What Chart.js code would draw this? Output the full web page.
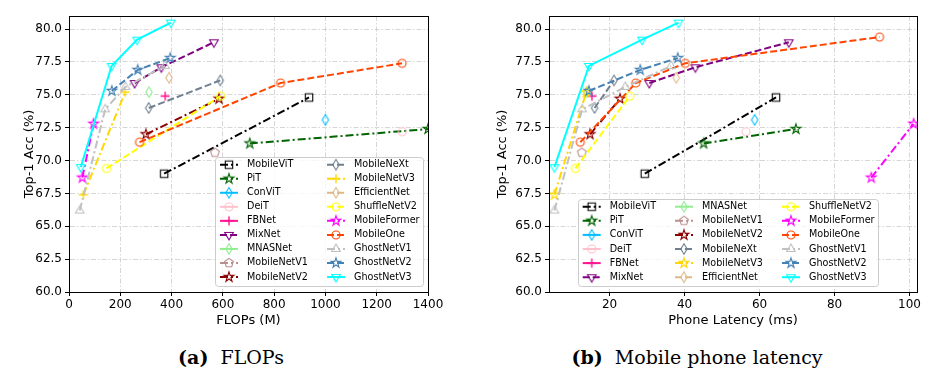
<!DOCTYPE html>
<html>
<head>
<meta charset="utf-8">
<script src="https://cdn.jsdelivr.net/npm/chart.js@4.4.0/dist/chart.umd.min.js"></script>
<style>
  body { margin: 0; background: #fff; width: 935px; height: 373px; position: relative; overflow: hidden; }
  #flops { position: absolute; left: 0; top: 0; }
  #latency { position: absolute; left: 467px; top: 0; }
  .cap { position: absolute; top: 346px; width: 300px; text-align: center; font-family: "DejaVu Serif"; font-size: 19px; line-height: 22px; color: #000; }
  .cap b { font-weight: bold; }
</style>
</head>
<body>
<canvas id="flops" width="467" height="340"></canvas>
<canvas id="latency" width="468" height="340"></canvas>
<div class="cap" style="left:81px"><b>(a)</b>&nbsp; FLOPs</div>
<div class="cap" style="left:547px"><b>(b)</b>&nbsp; Mobile phone latency</div>
<script>
const models = ['MobileViT', 'PiT', 'ConViT', 'DeiT', 'FBNet', 'MixNet', 'MNASNet', 'MobileNetV1', 'MobileNetV2',
  'MobileNeXt', 'MobileNetV3', 'EfficientNet', 'ShuffleNetV2', 'MobileFormer', 'MobileOne', 'GhostNetV1', 'GhostNetV2', 'GhostNetV3'];

// top-1 accuracy (%) of each variant
const accMobileViT = [69.0, 74.8];
const accPiT = [71.3, 72.4];
const accConViT = [73.1];
const accDeiT = [72.2];
const accFBNet = [74.9];
const accMixNet = [75.9, 77.1, 79.0];
const accMNASNet = [75.2];
const accMobileNetV1 = [70.6];
const accMobileNetV2 = [72.0, 74.7];
const accMobileNeXt = [74.0, 76.1];
const accMobileNetV3 = [67.4, 75.2];
const accEfficientNet = [76.3];
const accShuffleNetV2 = [69.4, 74.9];
const accMobileFormer = [68.7, 72.8];
const accMobileOne = [71.4, 75.9, 77.4, 79.4];
const accGhostNetV1 = [66.2, 73.9, 75.6, 77.2];
const accGhostNetV2 = [75.3, 76.9, 77.8];
const accGhostNetV3 = [69.5, 77.2, 79.2, 80.5];

// FLOPs (M)
const flopsMobileViT = [371, 936];
const flopsPiT = [705, 1400];
const flopsConViT = [1000];
const flopsDeiT = [1300];
const flopsFBNet = [375];
const flopsMixNet = [256, 360, 565];
const flopsMNASNet = [312];
const flopsMobileNetV1 = [569];
const flopsMobileNetV2 = [300, 585];
const flopsMobileNeXt = [311, 590];
const flopsMobileNetV3 = [56, 219];
const flopsEfficientNet = [390];
const flopsShuffleNetV2 = [146, 591];
const flopsMobileFormer = [52, 96];
const flopsMobileOne = [275, 825, 1299];
const flopsGhostNetV1 = [42, 141, 220, 374];
const flopsGhostNetV2 = [167, 268, 395];
const flopsGhostNetV3 = [46, 166, 266, 397];

// phone latency (ms)
const latMobileViT = [29.4, 64.4];
const latPiT = [45.1, 69.7];
const latConViT = [58.7];
const latDeiT = [56.4];
const latFBNet = [15.3];
const latMixNet = [30.6, 42.9, 67.8];
const latMNASNet = [14.0];
const latMobileNetV1 = [12.6];
const latMobileNetV2 = [14.8, 22.8];
const latMobileNeXt = [16.0, 21.2];
const latMobileNetV3 = [5.3, 13.8];
const latEfficientNet = [37.8];
const latShuffleNetV2 = [10.9, 25.4];
const latMobileFormer = [89.8, 101.1];
const latMobileOne = [12.2, 27.0, 40.2, 92.0];
const latGhostNetV1 = [5.3, 12.7, 24.2, 36.4];
const latGhostNetV2 = [14.5, 28.2, 38.2];
const latGhostNetV3 = [5.3, 14.5, 28.7, 38.4];

const flopsTicks = [0, 200, 400, 600, 800, 1000, 1200, 1400];
const latencyTicks = [20, 40, 60, 80, 100];
const accTicks = [60, 62.5, 65, 67.5, 70, 72.5, 75, 77.5, 80];

const accs = [accMobileViT, accPiT, accConViT, accDeiT, accFBNet, accMixNet, accMNASNet, accMobileNetV1, accMobileNetV2,
  accMobileNeXt, accMobileNetV3, accEfficientNet, accShuffleNetV2, accMobileFormer, accMobileOne, accGhostNetV1, accGhostNetV2, accGhostNetV3];
const flops = [flopsMobileViT, flopsPiT, flopsConViT, flopsDeiT, flopsFBNet, flopsMixNet, flopsMNASNet, flopsMobileNetV1, flopsMobileNetV2,
  flopsMobileNeXt, flopsMobileNetV3, flopsEfficientNet, flopsShuffleNetV2, flopsMobileFormer, flopsMobileOne, flopsGhostNetV1, flopsGhostNetV2, flopsGhostNetV3];
const lats = [latMobileViT, latPiT, latConViT, latDeiT, latFBNet, latMixNet, latMNASNet, latMobileNetV1, latMobileNetV2,
  latMobileNeXt, latMobileNetV3, latEfficientNet, latShuffleNetV2, latMobileFormer, latMobileOne, latGhostNetV1, latGhostNetV2, latGhostNetV3];

// styles
const colors = ['#000000', '#006400', '#00bfff', '#ffc0cb', '#ff1493', '#800080', '#90ee90', '#bc8f8f', '#8b0000',
  '#708090', '#ffd700', '#deb887', '#ffff00', '#ff00ff', '#ff4500', '#c0c0c0', '#4682b4', '#00ffff'];
const lineKinds = ['dashdot', 'dashdot', 'solid', 'solid', 'solid', 'dashed', 'solid', 'dashdot', 'dashdot',
  'dashed', 'dashdot', 'dashed', 'dashed', 'dashdot', 'dashed', 'dashdot', 'dashed', 'solid'];
const shapesFlops = ['s', '*', 'd', 'o', '+', 'v', 'd', 'p', '*', 'd', '+', 'd', 'o', '*', 'o', '^', '*', 'v'];
const shapesLat = ['s', '*', 'd', 'o', '+', 'v', 'd', 'p', '*', 'd', '*', 'd', 'o', '*', 'o', '^', '*', 'v'];
const dashes = { solid: [], dashed: [7, 3], dashdot: [8, 3, 2, 3] };

function poly(g, n, r, start) {
  for (let k = 0; k < n; k++) {
    const a = start + k * 2 * Math.PI / n;
    k ? g.lineTo(r * Math.cos(a), r * Math.sin(a)) : g.moveTo(r * Math.cos(a), r * Math.sin(a));
  }
  g.closePath();
}

// hollow matplotlib-like markers as little canvases
function marker(shape, color) {
  const c = document.createElement('canvas');
  c.width = c.height = 16;
  const g = c.getContext('2d');
  g.translate(8, 8);
  g.strokeStyle = color;
  g.lineWidth = 1.1;
  g.beginPath();
  if (shape == 'o') g.arc(0, 0, 4, 0, 2 * Math.PI);
  else if (shape == 's') g.rect(-3.7, -3.7, 7.4, 7.4);
  else if (shape == 'v') poly(g, 3, 5, Math.PI / 2);
  else if (shape == '^') poly(g, 3, 5, -Math.PI / 2);
  else if (shape == 'p') poly(g, 5, 4.6, -Math.PI / 2);
  else if (shape == 'd') { g.moveTo(0, -5.3); g.lineTo(3.2, 0); g.lineTo(0, 5.3); g.lineTo(-3.2, 0); g.closePath(); }
  else if (shape == '*') {
    for (let k = 0; k < 10; k++) {
      const r = k % 2 ? 2.0 : 5.2, a = -Math.PI / 2 + k * Math.PI / 5;
      k ? g.lineTo(r * Math.cos(a), r * Math.sin(a)) : g.moveTo(r * Math.cos(a), r * Math.sin(a));
    }
    g.closePath();
  } else if (shape == '+') { g.lineWidth = 1.4; g.moveTo(-4.5, 0); g.lineTo(4.5, 0); g.moveTo(0, -4.5); g.lineTo(0, 4.5); }
  g.stroke();
  return c;
}

const framePlugin = {
  id: 'frame',
  afterDatasetsDraw(chart) {
    const a = chart.chartArea, ctx = chart.ctx;
    ctx.save();
    ctx.strokeStyle = '#000';
    ctx.lineWidth = 1;
    ctx.strokeRect(Math.round(a.left) + 0.5, Math.round(a.top) + 0.5, Math.round(a.right - a.left), Math.round(a.bottom - a.top));
    ctx.restore();
  }
};

function legendPlugin(cfg, markers) {
  return {
    id: 'gridLegend',
    afterDraw(chart) {
      const ctx = chart.ctx;
      const rows = Math.ceil(models.length / cfg.cols.length);
      ctx.save();
      ctx.beginPath();
      ctx.roundRect(cfg.x, cfg.y, cfg.w, cfg.h, 3);
      ctx.fillStyle = 'rgba(255,255,255,0.8)';
      ctx.fill();
      ctx.strokeStyle = '#cccccc';
      ctx.lineWidth = 1;
      ctx.stroke();
      ctx.font = '9.6px "DejaVu Sans"';
      ctx.textBaseline = 'middle';
      models.forEach((name, i) => {
        const x0 = cfg.cols[Math.floor(i / rows)], y = cfg.top + (i % rows) * cfg.step;
        ctx.strokeStyle = colors[i];
        ctx.lineWidth = 2;
        ctx.setLineDash(dashes[lineKinds[i]]);
        ctx.beginPath();
        ctx.moveTo(x0, y);
        ctx.lineTo(x0 + 18, y);
        ctx.stroke();
        ctx.setLineDash([]);
        ctx.drawImage(markers[i], x0 + 9 - 8, y - 8);
        ctx.fillStyle = '#000';
        ctx.fillText(name, x0 + 27, y);
      });
      ctx.restore();
    }
  };
}

function makeChart(id, xs, shapes, xr, xticks, xtitle, yWidth, yTitlePad, padRight, legendCfg) {
  const markers = shapes.map((s, i) => marker(s, colors[i]));
  const datasets = models.map((name, i) => ({
    label: name,
    data: xs[i].map((x, j) => ({ x: x, y: accs[i][j] })),
    showLine: true,
    borderColor: colors[i],
    backgroundColor: colors[i],
    borderWidth: 2,
    borderDash: dashes[lineKinds[i]],
    pointStyle: markers[i],
    pointRadius: 5,
    tension: 0,
    clip: 0,
    order: models.length - i
  }));
  const tickFont = { family: 'DejaVu Sans', size: 12 };
  const grid = { color: '#cccccc', lineWidth: 0.8, tickColor: '#000', tickLength: 4, tickWidth: 1, tickBorderDash: [] };
  return new Chart(document.getElementById(id), {
    type: 'scatter',
    data: { datasets: datasets },
    plugins: [framePlugin, legendPlugin(legendCfg, markers)],
    options: {
      responsive: false,
      animation: false,
      events: [],
      layout: { padding: { left: 0, top: 16, right: padRight, bottom: 8 } },
      plugins: { legend: { display: false }, tooltip: { enabled: false } },
      scales: {
        x: {
          type: 'linear', min: xr[0], max: xr[1],
          afterBuildTicks: s => { s.ticks = xticks.map(v => ({ value: v })); },
          afterFit: s => { s.height = 40; },
          ticks: { font: tickFont, color: '#000', padding: 2, maxRotation: 0, callback: v => String(v) },
          grid: grid,
          border: { display: true, color: '#000', dash: [5, 2, 1.5, 2] },
          title: { display: true, text: xtitle, color: '#000', font: { family: 'DejaVu Sans', size: 13 }, padding: { top: 0, bottom: 4 } }
        },
        y: {
          type: 'linear', min: 60, max: 81,
          afterBuildTicks: s => { s.ticks = accTicks.map(v => ({ value: v })); },
          afterFit: s => { s.width = yWidth; },
          ticks: { font: tickFont, color: '#000', padding: 3, callback: v => v.toFixed(1) },
          grid: grid,
          border: { display: true, color: '#000', dash: [5, 2, 1.5, 2] },
          title: { display: true, text: 'Top-1 Acc (%)', color: '#000', font: { family: 'DejaVu Sans', size: 13 }, padding: { top: yTitlePad, bottom: 0 } }
        }
      }
    }
  });
}

makeChart('flops', flops, shapesFlops, [0, 1400], flopsTicks, 'FLOPs (M)', 69, 22, 39,
  { x: 215.5, y: 157.5, w: 208, h: 129, cols: [220, 327], top: 164.7, step: 14.04 });
makeChart('latency', lats, shapesLat, [3.85, 102], latencyTicks, 'Phone Latency (ms)', 82, 28, 18,
  { x: 111.5, y: 199.5, w: 300, h: 87, cols: [115.7, 208, 315], top: 206.7, step: 14.1 });
</script>
</body>
</html>
